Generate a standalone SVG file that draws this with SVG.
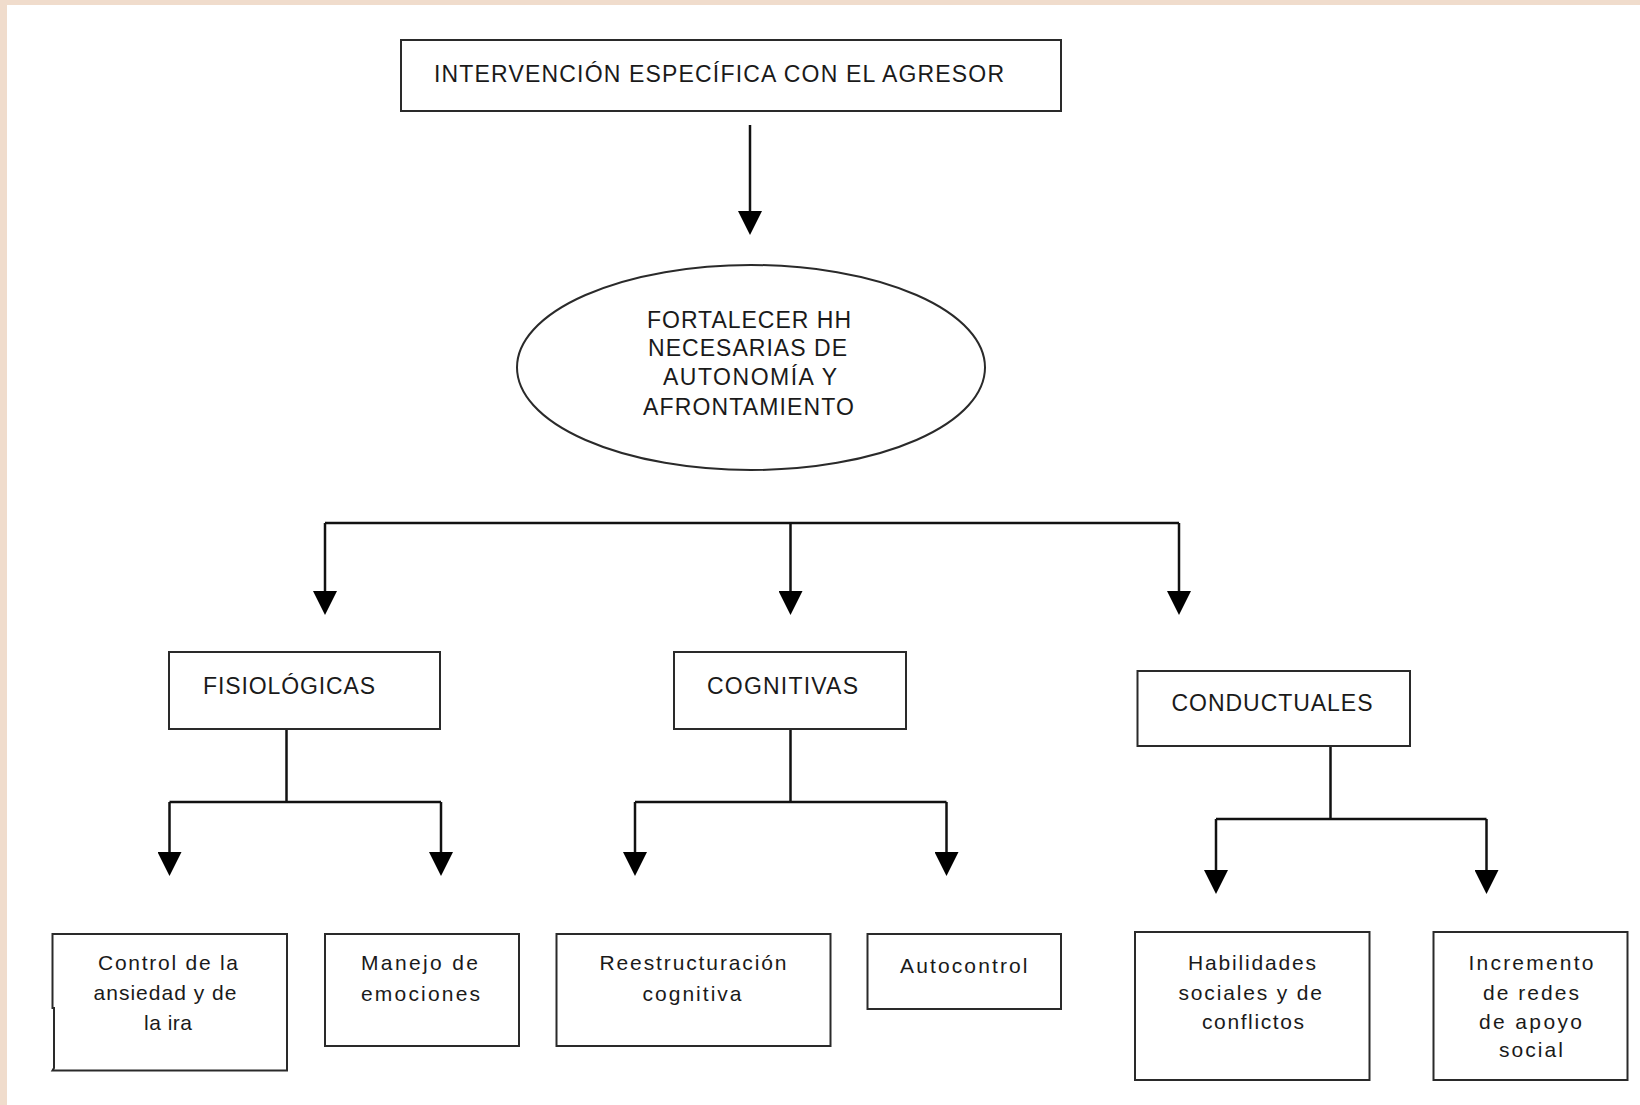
<svg xmlns="http://www.w3.org/2000/svg" width="1640" height="1105" viewBox="0 0 1640 1105">
<style>
.box{fill:#fff;stroke:#2a2a2a;stroke-width:2}
.con{stroke:#111;stroke-width:2.5;fill:none}
.cap{font-family:"Liberation Sans",Arial,sans-serif;font-size:23px;fill:#1a1a1a}
.low{font-family:"Liberation Sans",Arial,sans-serif;font-size:21px;fill:#1a1a1a}
</style>
<defs>
<marker id="ah" markerUnits="userSpaceOnUse" markerWidth="24" markerHeight="24" viewBox="0 0 24 24" refX="0" refY="12" orient="auto">
<path d="M0,0 L24,12 L0,24 z" fill="#000"/>
</marker>
</defs>
<rect x="0" y="0" width="1640" height="1105" fill="#fff"/>
<rect x="0" y="0" width="1640" height="5" fill="#f0dccc"/>
<rect x="0" y="0" width="7" height="1105" fill="#f0dccc"/>

<g id="connectors">
<line class="con" x1="750" y1="125" x2="750" y2="211" marker-end="url(#ah)"/>
<line class="con" x1="325" y1="523" x2="1179" y2="523"/>
<line class="con" x1="325" y1="523" x2="325" y2="591" marker-end="url(#ah)"/>
<line class="con" x1="790.5" y1="523" x2="790.5" y2="591" marker-end="url(#ah)"/>
<line class="con" x1="1179" y1="523" x2="1179" y2="591" marker-end="url(#ah)"/>
<line class="con" x1="286.5" y1="729" x2="286.5" y2="802"/>
<line class="con" x1="169.5" y1="802" x2="441" y2="802"/>
<line class="con" x1="169.5" y1="802" x2="169.5" y2="852" marker-end="url(#ah)"/>
<line class="con" x1="441" y1="802" x2="441" y2="852" marker-end="url(#ah)"/>
<line class="con" x1="790.5" y1="729" x2="790.5" y2="802"/>
<line class="con" x1="635" y1="802" x2="946.5" y2="802"/>
<line class="con" x1="635" y1="802" x2="635" y2="852" marker-end="url(#ah)"/>
<line class="con" x1="946.5" y1="802" x2="946.5" y2="852" marker-end="url(#ah)"/>
<line class="con" x1="1330.5" y1="746" x2="1330.5" y2="819"/>
<line class="con" x1="1216" y1="819" x2="1486.5" y2="819"/>
<line class="con" x1="1216" y1="819" x2="1216" y2="870" marker-end="url(#ah)"/>
<line class="con" x1="1486.5" y1="819" x2="1486.5" y2="870" marker-end="url(#ah)"/>
</g>

<g id="n-intervencion">
<rect class="box" x="401" y="40" width="660" height="71"/>
<text class="cap" x="434" y="82" textLength="570" lengthAdjust="spacing">INTERVENCIÓN ESPECÍFICA CON EL AGRESOR</text>
</g>

<g id="n-fortalecer">
<ellipse class="box" cx="751" cy="367.5" rx="234" ry="102.5"/>
<text class="cap" x="647" y="328" textLength="204" lengthAdjust="spacing">FORTALECER HH</text>
<text class="cap" x="648" y="356" textLength="199" lengthAdjust="spacing">NECESARIAS DE</text>
<text class="cap" x="663" y="385" textLength="174" lengthAdjust="spacing">AUTONOMÍA Y</text>
<text class="cap" x="643" y="415" textLength="211" lengthAdjust="spacing">AFRONTAMIENTO</text>
</g>

<g id="n-fisiologicas">
<rect class="box" x="169" y="652" width="271" height="77"/>
<text class="cap" x="203" y="694" textLength="172" lengthAdjust="spacing">FISIOLÓGICAS</text>
</g>

<g id="n-cognitivas">
<rect class="box" x="674" y="652" width="232" height="77"/>
<text class="cap" x="707" y="694" textLength="151" lengthAdjust="spacing">COGNITIVAS</text>
</g>

<g id="n-conductuales">
<rect class="box" x="1137.5" y="671" width="272.5" height="75"/>
<text class="cap" x="1171.5" y="711" textLength="201" lengthAdjust="spacing">CONDUCTUALES</text>
</g>

<g id="n-control">
<path d="M287,934 H52.5 V1008 H54 V1068 L52.5,1070.5 H287 Z" fill="#fff" stroke="#2a2a2a" stroke-width="2"/>
<text class="low" x="98" y="970" textLength="140" lengthAdjust="spacing">Control de la</text>
<text class="low" x="93.5" y="1000" textLength="143" lengthAdjust="spacing">ansiedad y de</text>
<text class="low" x="144" y="1030" textLength="48" lengthAdjust="spacing">la ira</text>
</g>

<g id="n-manejo">
<rect class="box" x="325" y="934" width="194" height="112"/>
<text class="low" x="361" y="970" textLength="117" lengthAdjust="spacing">Manejo de</text>
<text class="low" x="361" y="1001" textLength="119" lengthAdjust="spacing">emociones</text>
</g>

<g id="n-reestructuracion">
<rect class="box" x="556.5" y="934" width="274" height="112"/>
<text class="low" x="599.5" y="970" textLength="187" lengthAdjust="spacing">Reestructuración</text>
<text class="low" x="642.5" y="1001" textLength="99" lengthAdjust="spacing">cognitiva</text>
</g>

<g id="n-autocontrol">
<rect class="box" x="867.5" y="934" width="193.5" height="75"/>
<text class="low" x="900" y="973" textLength="127.5" lengthAdjust="spacing">Autocontrol</text>
</g>

<g id="n-habilidades">
<rect class="box" x="1135" y="932" width="234.5" height="148"/>
<text class="low" x="1188" y="970" textLength="128" lengthAdjust="spacing">Habilidades</text>
<text class="low" x="1178.5" y="1000" textLength="143.5" lengthAdjust="spacing">sociales y de</text>
<text class="low" x="1202" y="1028.5" textLength="102" lengthAdjust="spacing">conflictos</text>
</g>

<g id="n-incremento">
<rect class="box" x="1433.5" y="932" width="194" height="148"/>
<text class="low" x="1468.5" y="970" textLength="125" lengthAdjust="spacing">Incremento</text>
<text class="low" x="1483" y="1000" textLength="96" lengthAdjust="spacing">de redes</text>
<text class="low" x="1479" y="1028.5" textLength="103" lengthAdjust="spacing">de apoyo</text>
<text class="low" x="1499" y="1057" textLength="64" lengthAdjust="spacing">social</text>
</g>
</svg>
